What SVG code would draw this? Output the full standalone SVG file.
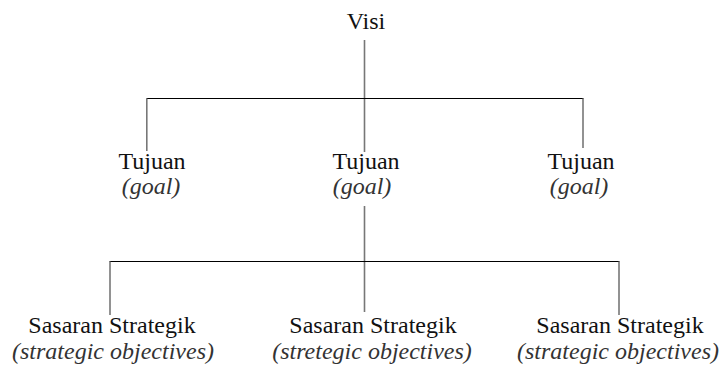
<svg xmlns="http://www.w3.org/2000/svg" width="721" height="367" viewBox="0 0 721 367">
<style>
text{font-family:"Liberation Serif","Times New Roman",serif;font-size:24px;fill:#111;text-anchor:middle}
.it{font-style:italic;fill:#333}
.v{stroke:#777;stroke-width:1.6;fill:none}
.h{stroke:#000;stroke-width:1.2;fill:none}
</style>
<rect width="721" height="367" fill="#fff"/>
<g id="connectors">
<line class="v" x1="364.5" y1="40" x2="364.5" y2="152"/>
<line class="h" x1="146.5" y1="98.5" x2="583.5" y2="98.5"/>
<line class="v" x1="146.8" y1="98.5" x2="146.8" y2="151"/>
<line class="v" x1="583" y1="98.5" x2="583" y2="148"/>
<line class="v" x1="364.5" y1="206" x2="364.5" y2="312"/>
<line class="h" x1="109.5" y1="261.5" x2="619.5" y2="261.5"/>
<line class="v" x1="110" y1="261.5" x2="110" y2="315"/>
<line class="v" x1="619" y1="261.5" x2="619" y2="315"/>
</g>
<g id="visi"><text x="366" y="29">Visi</text></g>
<g id="tujuan1"><text x="152" y="169">Tujuan</text><text class="it" x="151" y="194">(goal)</text></g>
<g id="tujuan2"><text x="366" y="169">Tujuan</text><text class="it" x="362" y="194">(goal)</text></g>
<g id="tujuan3"><text x="581" y="169">Tujuan</text><text class="it" x="579" y="194">(goal)</text></g>
<g id="sasaran1"><text x="112" y="333">Sasaran Strategik</text><text class="it" x="113" y="359">(strategic objectives)</text></g>
<g id="sasaran2"><text x="373" y="333">Sasaran Strategik</text><text class="it" x="372" y="359">(stretegic objectives)</text></g>
<g id="sasaran3"><text x="620" y="333">Sasaran Strategik</text><text class="it" x="618" y="359">(strategic objectives)</text></g>
</svg>
